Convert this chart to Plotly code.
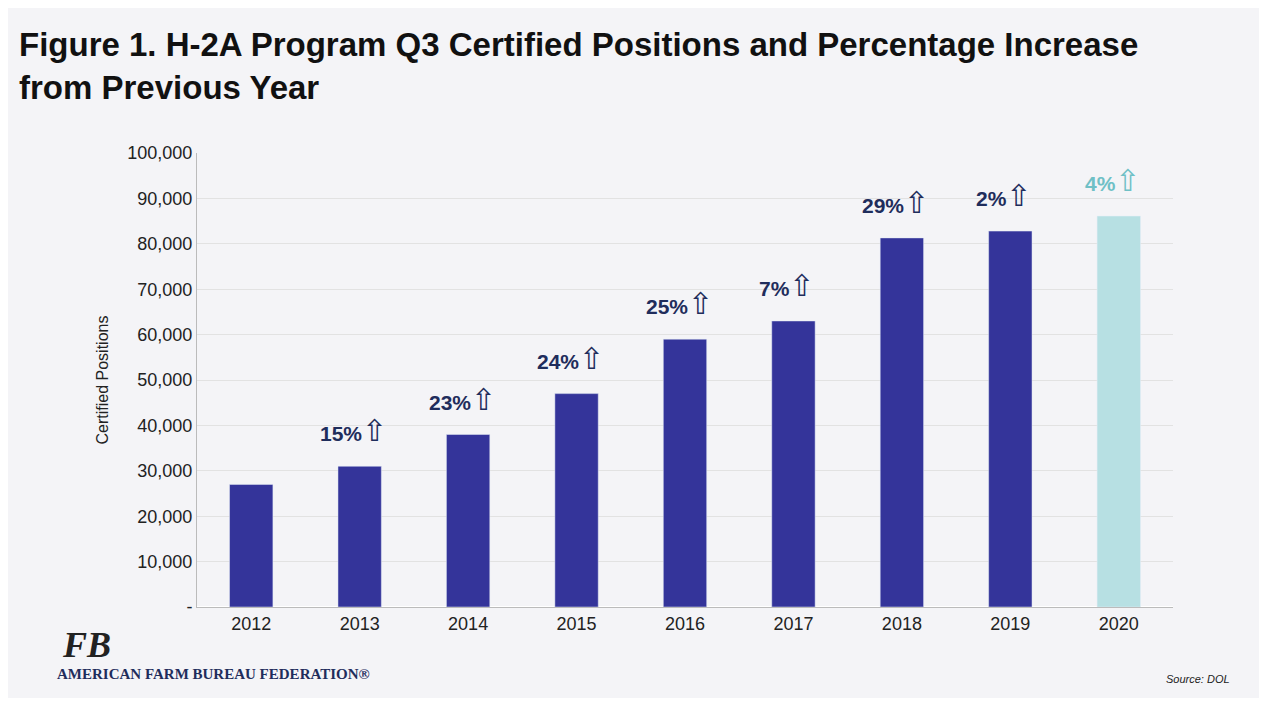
import plotly.graph_objects as go

years = ["2012","2013","2014","2015","2016","2017","2018","2019","2020"]
positions = [27000, 31000, 38000, 47000, 59000, 63000, 81300, 82800, 86100]
pct = ["", "15%", "23%", "24%", "25%", "7%", "29%", "2%", "4%"]
colors = ["#34349a"]*8 + ["#b7e0e3"]
label_colors = ["#1f2d5c"]*8 + ["#6fc0c6"]
xpos = list(range(len(years)))

fig = go.Figure(go.Bar(x=xpos, y=positions, marker_color=colors, width=0.4))

for i, v, p, c in zip(xpos, positions, pct, label_colors):
    if p:
        fig.add_annotation(x=i, y=v + 3500, text=f"<b>{p}</b><span style='font-family:DejaVu Sans;font-size:30px'>⇧</span>",
                           showarrow=False, yanchor="bottom", xshift=-6,
                           font=dict(size=21, color=c, family="Liberation Sans"))

fig.add_annotation(xref="paper", yref="paper", x=-0.184, y=1.285, xanchor="left", yanchor="top",
                   align="left", showarrow=False,
                   text="<b>Figure 1. H-2A Program Q3 Certified Positions and Percentage Increase<br>from Previous Year</b>",
                   font=dict(size=33, color="#111", family="Liberation Sans"))
fig.add_annotation(xref="paper", yref="paper", x=-0.14, y=-0.035, xanchor="left", yanchor="top",
                   showarrow=False, text="<b><i>FB</i></b>",
                   font=dict(size=36, color="#222", family="Liberation Serif"))
fig.add_annotation(xref="paper", yref="paper", x=-0.145, y=-0.125, xanchor="left", yanchor="top",
                   showarrow=False, text="<b>AMERICAN FARM BUREAU FEDERATION®</b>",
                   font=dict(size=15, color="#1f2d5c", family="Liberation Serif"))
fig.add_annotation(xref="paper", yref="paper", x=1.06, y=-0.14, xanchor="right", yanchor="top",
                   showarrow=False, text="<i>Source: DOL</i>",
                   font=dict(size=11, color="#222", family="Liberation Sans"))

fig.update_layout(
    width=1251, height=690,
    margin=dict(l=189, r=86, t=145, b=91),
    paper_bgcolor="#f4f4f7", plot_bgcolor="#f4f4f7",
    showlegend=False,
    font=dict(family="Liberation Sans", color="#222"),
    xaxis=dict(range=[-0.5, 8.5], tickvals=xpos, ticktext=years, showline=True, linecolor="#bbbbbb",
               tickfont=dict(size=18), ticks="", showgrid=False, zeroline=False),
    yaxis=dict(range=[0, 100000], tickvals=list(range(0, 100001, 10000)),
               ticktext=["-"] + [f"{v:,}" for v in range(10000, 100001, 10000)],
               gridcolor="#e2e2e2", tickfont=dict(size=18), showline=True, linecolor="#bbbbbb",
               title=dict(text="Certified Positions", font=dict(size=16, family="Liberation Sans"), standoff=14)),
)
fig.write_html("out.html")
